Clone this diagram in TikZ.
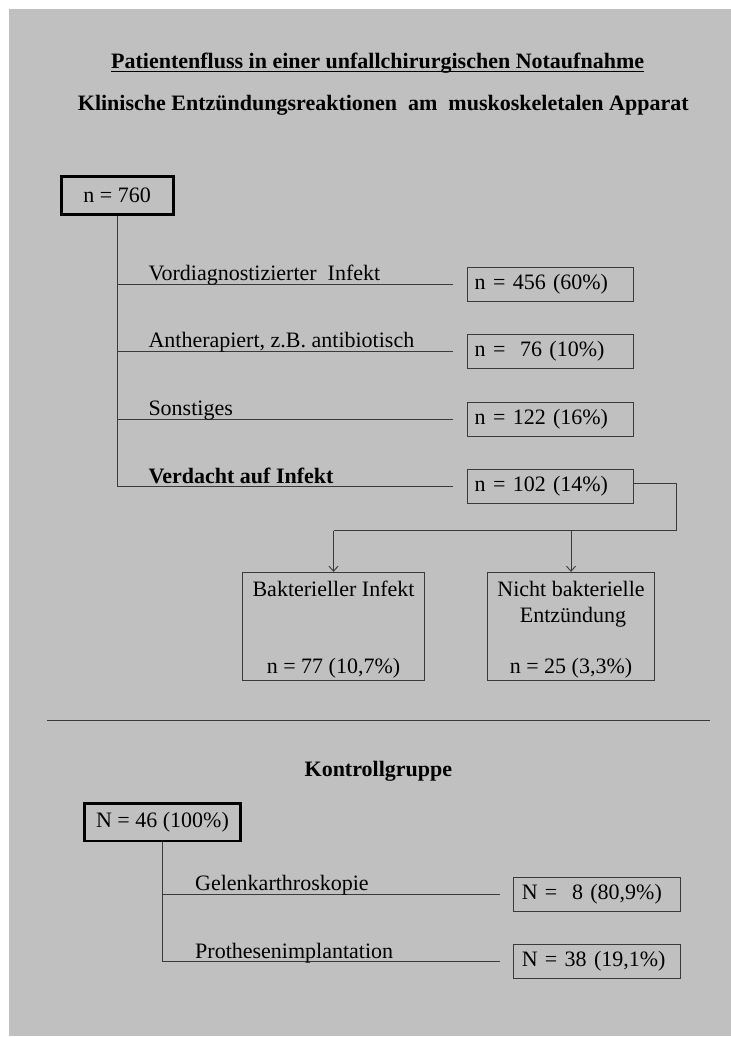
\documentclass[tikz,border=0pt]{standalone}
\usepackage{fontspec}
\setmainfont{Liberation Serif}
\usetikzlibrary{arrows.meta}
\definecolor{bg}{HTML}{C0C0C0}
\definecolor{ln}{HTML}{3A3A3A}
\begin{document}
\begin{tikzpicture}[x=1pt,y=-1pt,
  every node/.style={font=\fontsize{22}{26}\selectfont, text=black},
  bold/.style={font=\fontsize{22}{26}\selectfont\bfseries},
  lbl/.style={anchor=base west, inner sep=0pt},
  ctr/.style={anchor=base, inner sep=0pt},
  thickbox/.style={draw=black, line width=2.7pt, inner sep=0pt},
  rbox/.style={draw=ln, line width=0.9pt, minimum width=166pt, minimum height=34pt,
    text width=151pt, inner xsep=7.5pt, inner ysep=0pt, align=left},
  bbox/.style={draw=ln, line width=0.9pt, minimum height=108pt, inner sep=0pt},
  conn/.style={draw=ln, line width=0.9pt},
  arr/.style={conn, -{Straight Barb[length=5pt,width=9pt]}},
]
\useasboundingbox (0,0) rectangle (731,1037);
\fill[bg] (9,9) rectangle (731,1036);

% titles
\node[lbl, bold] (title) at (111,68.3) {Patientenfluss in einer unfallchirurgischen Notaufnahme};
\draw[line width=1.6pt] ([yshift=-3pt]title.base west) -- ([yshift=-3pt]title.base east);
\node[lbl, bold] (sub) at (77.7,110) {Klinische Entzündungsreaktionen\ \ am\ \ muskoskeletalen Apparat};

% upper tree
\node[thickbox, minimum width=112pt, minimum height=38pt] (n760) at (117.2,195.4) {n = 760};

\node[rbox] (r1) at (550.2,284.3) {n = 456 (60\%)};
\node[rbox] (r2) at (550.2,351.4) {n =\ \ 76 (10\%)};
\node[rbox] (r3) at (550.2,419) {n = 122 (16\%)};
\node[rbox] (r4) at (550.2,486.7) {n = 102 (14\%)};

\draw[conn] (n760.south) -- (n760.south |- r4.west);
\draw[conn] (n760.south |- r1.west) -- ([xshift=-14pt]r1.west);
\draw[conn] (n760.south |- r2.west) -- ([xshift=-14pt]r2.west);
\draw[conn] (n760.south |- r3.west) -- ([xshift=-14pt]r3.west);
\draw[conn] (n760.south |- r4.west) -- ([xshift=-14pt]r4.west);

\node[lbl] (l1) at (148.3,280.8) {Vordiagnostizierter\ \ Infekt};
\node[lbl] (l2) at (148.3,347.8) {Antherapiert, z.B. antibiotisch};
\node[lbl] (l3) at (148.3,415.5) {Sonstiges};
\node[lbl, bold] (l4) at (148.3,483.2) {Verdacht auf Infekt};

% split
\node[bbox, minimum width=182pt] (b1) at (333.5,626.3) {};
\node[bbox, minimum width=167pt] (b2) at (571,626.3) {};
\coordinate (split) at (676,530.7);
\draw[conn] ([yshift=3pt]r4.east) -| (split) -- (split -| b1.north);
\draw[arr] (split -| b1.north) -- (b1.north);
\draw[arr] (split -| b2.north) -- (b2.north);

\node[ctr] (b1a) at (333.5,596.7) {Bakterieller Infekt};
\node[ctr] (b1b) at (333.5,673.3) {n = 77 (10,7\%)};
\node[ctr] (b2a) at (571,596.7) {Nicht bakterielle};
\node[ctr] (b2b) at (573,622.3) {Entzündung};
\node[ctr] (b2c) at (571,673.3) {n = 25 (3,3\%)};

% separator
\coordinate (sepL) at (47.3,720.7);
\coordinate (sepR) at (710,720.7);
\draw[conn] (sepL) -- (sepR);

% control group
\node[ctr, bold] (kg) at (378.4,776) {Kontrollgruppe};
\node[thickbox, minimum width=156pt, minimum height=37.6pt] (n46) at (162.5,822.2) {N = 46 (100\%)};

\node[rbox, minimum width=166.5pt, text width=150.5pt, inner xsep=8pt] (k1) at (597,894) {N =\ \ 8 (80,9\%)};
\node[rbox, minimum width=166.5pt, text width=150.5pt, inner xsep=8pt] (k2) at (597,961.5) {N = 38 (19,1\%)};

\draw[conn] (n46.south) -- (n46.south |- k2.west);
\draw[conn] (n46.south |- k1.west) -- ([xshift=-13.7pt]k1.west);
\draw[conn] (n46.south |- k2.west) -- ([xshift=-13.7pt]k2.west);

\node[lbl] (g1) at (195,890.3) {Gelenkarthroskopie};
\node[lbl] (g2) at (195,958) {Prothesenimplantation};
\end{tikzpicture}
\end{document}
